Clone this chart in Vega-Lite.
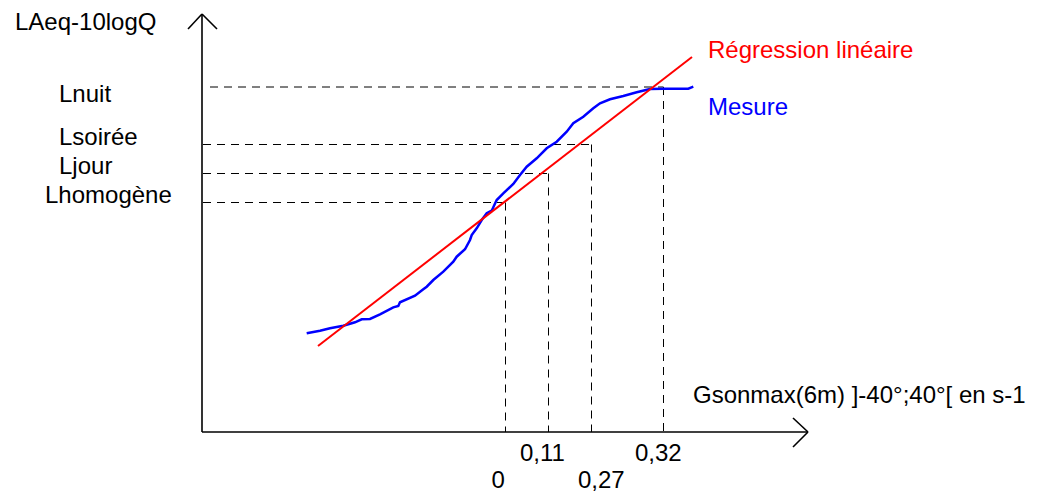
{
  "$schema": "https://vega.github.io/schema/vega-lite/v6.json",
  "width": 1039,
  "height": 492,
  "autosize": {"type": "none"},
  "padding": 0,
  "background": "white",
  "config": {"view": {"stroke": null}},
  "datasets": {
    "axes": [
      {"x": 202, "y": 432, "x2": 202, "y2": 14},
      {"x": 188, "y": 29, "x2": 202, "y2": 14},
      {"x": 217, "y": 29, "x2": 202, "y2": 14},
      {"x": 202, "y": 432, "x2": 808, "y2": 432},
      {"x": 793, "y": 418, "x2": 808, "y2": 432},
      {"x": 793, "y": 447, "x2": 808, "y2": 432}
    ],
    "dashes": [
      {"x": 210, "y": 87, "x2": 663.5, "y2": 87},
      {"x": 203, "y": 144.5, "x2": 591.5, "y2": 144.5},
      {"x": 203, "y": 173.5, "x2": 548.5, "y2": 173.5},
      {"x": 203, "y": 202.5, "x2": 505.5, "y2": 202.5},
      {"x": 663.5, "y": 87, "x2": 663.5, "y2": 432},
      {"x": 591.5, "y": 144.5, "x2": 591.5, "y2": 432},
      {"x": 548.5, "y": 173.5, "x2": 548.5, "y2": 432},
      {"x": 505.5, "y": 202.5, "x2": 505.5, "y2": 432}
    ],
    "regression": [
      {"x": 318, "y": 346, "x2": 692, "y2": 57}
    ],
    "mesure": [
      {"x": 306.7, "y": 333.3},
      {"x": 320, "y": 330.7},
      {"x": 330, "y": 328.3},
      {"x": 343.3, "y": 325.7},
      {"x": 355, "y": 322.3},
      {"x": 361.7, "y": 319.3},
      {"x": 370, "y": 319},
      {"x": 380, "y": 314.3},
      {"x": 393.3, "y": 307.3},
      {"x": 398.3, "y": 306},
      {"x": 400, "y": 302.3},
      {"x": 415, "y": 295.7},
      {"x": 423.3, "y": 289.3},
      {"x": 426.7, "y": 286.7},
      {"x": 433.3, "y": 280},
      {"x": 443.3, "y": 271.7},
      {"x": 453.3, "y": 261.7},
      {"x": 456.7, "y": 256.7},
      {"x": 465, "y": 249.3},
      {"x": 470, "y": 240},
      {"x": 471.7, "y": 235},
      {"x": 476.7, "y": 228.3},
      {"x": 481.7, "y": 220},
      {"x": 486.7, "y": 213.3},
      {"x": 491.7, "y": 210.7},
      {"x": 496.7, "y": 200},
      {"x": 503.3, "y": 193.3},
      {"x": 513.3, "y": 184},
      {"x": 520, "y": 175},
      {"x": 526.7, "y": 166.7},
      {"x": 536.7, "y": 158.3},
      {"x": 546.7, "y": 148.3},
      {"x": 556.7, "y": 141.7},
      {"x": 566.7, "y": 131.7},
      {"x": 573.3, "y": 123.3},
      {"x": 583.3, "y": 116.7},
      {"x": 593.3, "y": 108.3},
      {"x": 600, "y": 103.3},
      {"x": 610, "y": 99.3},
      {"x": 623.3, "y": 96},
      {"x": 636.7, "y": 92.3},
      {"x": 650, "y": 89},
      {"x": 663.3, "y": 88.7},
      {"x": 688.3, "y": 88.7},
      {"x": 693.3, "y": 86.7}
    ],
    "labels": [
      {"x": 15, "y": 30, "text": "LAeq-10logQ", "kind": "axis"},
      {"x": 59, "y": 101.5, "text": "Lnuit", "kind": "axis"},
      {"x": 59, "y": 145, "text": "Lsoirée", "kind": "axis"},
      {"x": 59, "y": 173.5, "text": "Ljour", "kind": "axis"},
      {"x": 45, "y": 202.5, "text": "Lhomogène", "kind": "axis"},
      {"x": 708, "y": 58.3, "text": "Régression linéaire", "kind": "regression"},
      {"x": 708, "y": 115, "text": "Mesure", "kind": "mesure"},
      {"x": 693, "y": 403.3, "text": "Gsonmax(6m) ]-40°;40°[ en s-1", "kind": "axis"},
      {"x": 520, "y": 460.7, "text": "0,11", "kind": "axis"},
      {"x": 635, "y": 460.7, "text": "0,32", "kind": "axis"},
      {"x": 491.5, "y": 488, "text": "0", "kind": "axis"},
      {"x": 578, "y": 488, "text": "0,27", "kind": "axis"}
    ]
  },
  "layer": [
    {
      "data": {"name": "dashes"},
      "mark": {"type": "rule", "color": "#000000", "strokeWidth": 1, "strokeDash": [8, 6]},
      "encoding": {
        "x": {"field": "x", "type": "quantitative", "scale": {"domain": [0, 1039], "nice": false, "zero": false}, "axis": null},
        "y": {"field": "y", "type": "quantitative", "scale": {"domain": [0, 492], "nice": false, "zero": false, "reverse": true}, "axis": null},
        "x2": {"field": "x2"},
        "y2": {"field": "y2"}
      }
    },
    {
      "data": {"name": "axes"},
      "mark": {"type": "rule", "color": "black", "strokeWidth": 1.6},
      "encoding": {
        "x": {"field": "x", "type": "quantitative"},
        "y": {"field": "y", "type": "quantitative"},
        "x2": {"field": "x2"},
        "y2": {"field": "y2"}
      }
    },
    {
      "data": {"name": "mesure"},
      "mark": {"type": "line", "color": "#0000ff", "strokeWidth": 2.5, "interpolate": "linear"},
      "encoding": {
        "x": {"field": "x", "type": "quantitative"},
        "y": {"field": "y", "type": "quantitative"},
        "order": {"field": "x", "type": "quantitative"}
      }
    },
    {
      "data": {"name": "regression"},
      "mark": {"type": "rule", "color": "#ff0000", "strokeWidth": 2},
      "encoding": {
        "x": {"field": "x", "type": "quantitative"},
        "y": {"field": "y", "type": "quantitative"},
        "x2": {"field": "x2"},
        "y2": {"field": "y2"}
      }
    },
    {
      "data": {"name": "labels"},
      "mark": {"type": "text", "align": "left", "baseline": "alphabetic", "font": "Liberation Sans", "fontSize": 24},
      "encoding": {
        "x": {"field": "x", "type": "quantitative"},
        "y": {"field": "y", "type": "quantitative"},
        "text": {"field": "text"},
        "color": {"field": "kind", "type": "nominal", "scale": {"domain": ["axis", "regression", "mesure"], "range": ["#000000", "#ff0000", "#0000ff"]}, "legend": null}
      }
    }
  ]
}
